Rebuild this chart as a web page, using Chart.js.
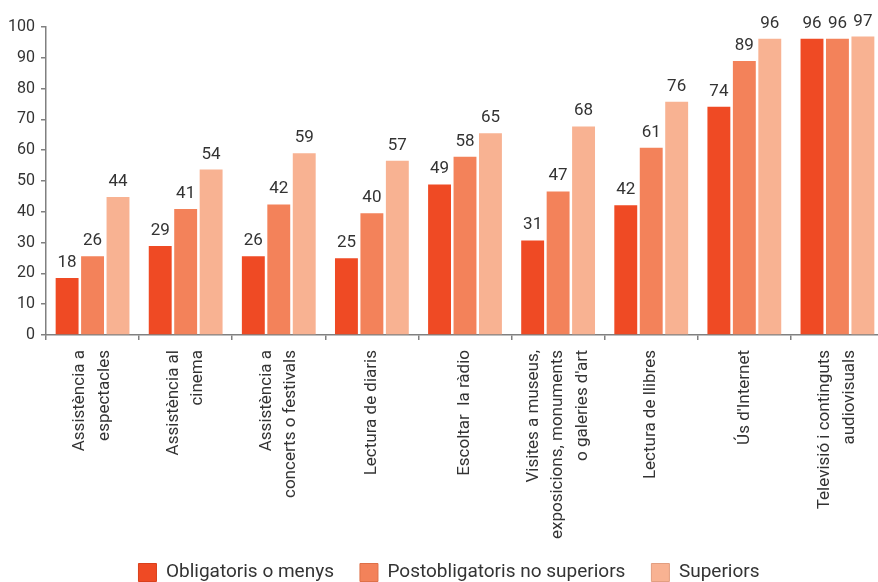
<!DOCTYPE html>
<html>
<head>
<meta charset="utf-8">
<script src="https://cdn.jsdelivr.net/npm/chart.js@4"></script>
<style>
html,body{margin:0;padding:0;background:#fff;overflow:hidden;}
#wrap{position:relative;width:884px;height:582px;}
</style>
</head>
<body>
<div id="wrap"><canvas id="c"></canvas></div>
<script>
const categories = [
  ["Assistència a", "espectacles"],
  ["Assistència al", "cinema"],
  ["Assistència a", "concerts o festivals"],
  ["Lectura de diaris"],
  ["Escoltar  la ràdio"],
  ["Visites a museus,", "exposicions, monuments", "o galeries d'art"],
  ["Lectura de llibres"],
  ["Ús d'Internet"],
  ["Televisió i continguts", "audiovisuals"]
];
const seriesNames = ["Obligatoris o menys", "Postobligatoris no superiors", "Superiors"];
const obligatoris = [18.5, 28.9, 25.6, 24.9, 48.9, 30.7, 42.1, 74.1, 96.2];
const postobligatoris = [25.6, 40.9, 42.4, 39.5, 57.9, 46.6, 60.8, 89.0, 96.2];
const superiors = [44.8, 53.7, 59.0, 56.6, 65.5, 67.7, 75.7, 96.2, 96.9];
const obligatorisLabels = ["18", "29", "26", "25", "49", "31", "42", "74", "96"];
const postobligatorisLabels = ["26", "41", "42", "40", "58", "47", "61", "89", "96"];
const superiorsLabels = ["44", "54", "59", "57", "65", "68", "76", "96", "97"];
const yTicks = [0, 10, 20, 30, 40, 50, 60, 70, 80, 90, 100];

const colors = ["#EF4A24", "#F3825A", "#F8B292"];
const borders = ["#D9401C", "#DE7048", "#E29E80"];
const valueLabels = [obligatorisLabels, postobligatorisLabels, superiorsLabels];

const FONT = "Roboto, 'Liberation Sans', sans-serif";
const TXT = "#333333";
const AXIS = "#808080";
const X_FONT_SIZE = 17, X_LINE_HEIGHT = 1.45;
const LEGEND_FONT = 19, LEGEND_PAD = 26;

const labelPlugin = {
  id: 'valueLabels',
  afterDatasetsDraw(chart) {
    const ctx = chart.ctx;
    ctx.save();
    ctx.font = "17px " + FONT;
    ctx.fillStyle = TXT;
    ctx.textAlign = "center";
    ctx.textBaseline = "alphabetic";
    chart.data.datasets.forEach((ds, di) => {
      const meta = chart.getDatasetMeta(di);
      meta.data.forEach((bar, i) => {
        ctx.fillText(valueLabels[di][i], bar.x, bar.y - 11);
      });
    });
    ctx.restore();
  }
};

// center multi-line rotated category labels on their tick
const centerLabels = {
  id: 'centerLabels',
  beforeDraw(chart) {
    const sc = chart.scales.x;
    const items = sc.getLabelItems();
    if (items.__centered) return;
    const lh = X_FONT_SIZE * X_LINE_HEIGHT;
    items.forEach(it => {
      const n = Array.isArray(it.label) ? it.label.length : 1;
      it.options.translation[0] -= (n - 1) * lh / 2;
    });
    items.__centered = true;
  }
};

const legendShift = {
  id: 'legendShift',
  afterLayout(chart) {
    const lg = chart.legend;
    if (lg) {
      lg.left += 7; lg.right += 7;
      const dy = 537 - lg.top;
      lg.top += dy; lg.bottom += dy;
    }
    // let long category labels extend below the scale box (avoid clipping)
    chart.scales.x.bottom = chart.height;
  }
};

new Chart(document.getElementById('c'), {
  type: 'bar',
  data: {
    labels: categories,
    datasets: [
      { label: seriesNames[0], data: obligatoris, backgroundColor: colors[0], borderColor: borders[0], borderWidth: 0 },
      { label: seriesNames[1], data: postobligatoris, backgroundColor: colors[1], borderColor: borders[1], borderWidth: 0 },
      { label: seriesNames[2], data: superiors, backgroundColor: colors[2], borderColor: borders[2], borderWidth: 0 }
    ]
  },
  options: {
    responsive: true,
    maintainAspectRatio: false,
    animation: false,
    layout: { padding: { top: 27, left: 0, right: 0, bottom: 0 } },
    datasets: { bar: { categoryPercentage: 0.82, barPercentage: 0.9 } },
    scales: {
      x: {
        offset: true,
        grid: { display: true, offset: true, drawOnChartArea: false, drawTicks: true, tickLength: 5, color: AXIS, lineWidth: 1.5 },
        border: { display: true, color: AXIS, width: 1.5 },
        ticks: {
          autoSkip: false, minRotation: 90, maxRotation: 90, padding: 10,
          color: TXT, font: { family: FONT, size: X_FONT_SIZE, lineHeight: X_LINE_HEIGHT }
        },
        afterFit(scale) {
          scale.height = 582 - 335 - (LEGEND_FONT + LEGEND_PAD + 10);
          scale.paddingLeft = 0; scale.paddingRight = 0;
        }
      },
      y: {
        min: 0, max: 100,
        afterBuildTicks(scale) { scale.ticks = yTicks.map(v => ({ value: v })); },
        grid: { display: true, drawOnChartArea: false, drawTicks: true, tickLength: 5, color: AXIS, lineWidth: 1.5 },
        border: { display: true, color: AXIS, width: 1.5 },
        ticks: { padding: 6, color: TXT, font: { family: FONT, size: 16 } },
        afterFit(scale) { scale.width = 46; }
      }
    },
    plugins: {
      legend: {
        position: 'bottom',
        labels: {
          boxWidth: 18, boxHeight: 18, padding: LEGEND_PAD,
          color: TXT, font: { family: FONT, size: LEGEND_FONT },
          generateLabels(chart) {
            const items = Chart.defaults.plugins.legend.labels.generateLabels(chart);
            items.forEach((it, i) => { it.strokeStyle = borders[i]; it.lineWidth = 1; });
            return items;
          }
        }
      },
      tooltip: { enabled: false }
    }
  },
  plugins: [labelPlugin, centerLabels, legendShift]
});
</script>
</body>
</html>
